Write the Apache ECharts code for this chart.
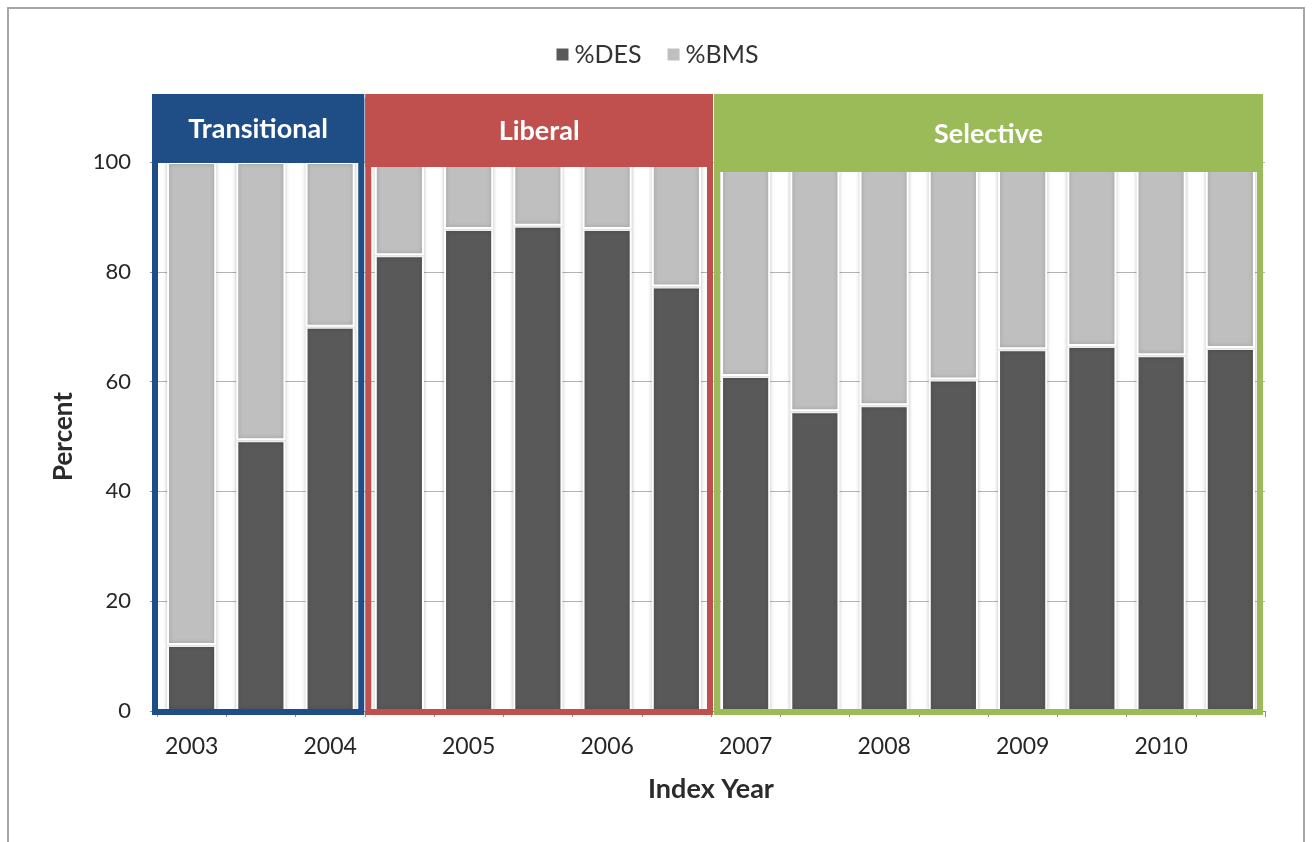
<!DOCTYPE html>
<html>
<head>
<meta charset="utf-8">
<title>%DES and %BMS by Index Year</title>
<script src="https://cdn.jsdelivr.net/npm/echarts@6/dist/echarts.min.js"></script>
<style>
  html, body { margin: 0; padding: 0; background: #ffffff; }
  #chart { width: 1313px; height: 842px; }
</style>
</head>
<body>
<div id="chart"></div>
<script>
// Half-year periods, labelled by year on every second tick
const periods = ['2003-1', '2003-2', '2004-1', '2004-2', '2005-1', '2005-2', '2006-1', '2006-2',
                 '2007-1', '2007-2', '2008-1', '2008-2', '2009-1', '2009-2', '2010-1', '2010-2'];

// Share of drug-eluting stents and bare-metal stents (percent)
const desValues = [12, 49.3, 70, 83, 87.8, 88.4, 87.8, 77.3, 61, 54.6, 55.7, 60.4, 65.9, 66.5, 64.8, 66.1];
const bmsValues = [88, 50.7, 30, 17, 12.2, 11.6, 12.2, 22.7, 39, 45.4, 44.3, 39.6, 34.1, 33.5, 35.2, 33.9];

// Policy eras, as [first period index, end period index]
const eraNames = ['Transitional', 'Liberal', 'Selective'];
const eraStart = [0, 3, 8];
const eraEnd = [3, 8, 16];

const yTicks = [0, 20, 40, 60, 80, 100];

// Appearance of each era frame
const eraStyle = [
  { color: '#1F4E86', insetL: -2, insetR: -3.5, headerDrop: 1 },
  { color: '#C0504D', insetL: 3.5, insetR: -1, headerDrop: 5 },
  { color: '#9BBB59', insetL: 6, insetR: -5, headerDrop: 10 }
];

const FONT = 'Lato, "Open Sans", sans-serif';
const chart = echarts.init(document.getElementById('chart'));

function renderEra(params, api) {
  const i = params.dataIndex;
  const st = eraStyle[i];
  const left = api.coord([api.value(0), 0]);
  const right = api.coord([api.value(1), 0]);
  const top100 = api.coord([api.value(0), 100]);
  const lw = 6;
  const x0 = left[0] + st.insetL;
  const x1 = right[0] + st.insetR;
  const yBottom = left[1] + 1;
  const yTop = top100[1] - 65;
  const yHeader = top100[1] + st.headerDrop;
  return {
    type: 'group',
    children: [
      {
        type: 'rect',
        shape: { x: x0 - lw / 2, y: yTop - lw / 2, width: x1 - x0 + lw, height: yHeader - yTop + lw / 2, r: [5, 5, 0, 0] },
        style: { fill: st.color }
      },
      {
        type: 'rect',
        shape: { x: x0, y: yTop, width: x1 - x0, height: yBottom - yTop },
        style: { fill: 'none', stroke: st.color, lineWidth: lw }
      },
      {
        type: 'text',
        x: (x0 + x1) / 2,
        y: (yTop - lw / 2 + yHeader) / 2 + 1,
        style: {
          text: eraNames[i],
          fill: '#ffffff',
          font: 'bold 27px ' + FONT,
          align: 'center',
          verticalAlign: 'middle'
        }
      }
    ]
  };
}

const option = {
  backgroundColor: '#ffffff',
  animation: false,
  graphic: [
    {
      type: 'rect',
      shape: { x: 8, y: 8, width: 1296, height: 900 },
      style: { fill: 'none', stroke: '#a6a6a6', lineWidth: 2 },
      silent: true,
      z: 0
    }
  ],
  legend: {
    data: ['%DES', '%BMS'],
    left: 'center',
    top: 37,
    icon: 'rect',
    itemWidth: 14,
    itemHeight: 14,
    itemGap: 24,
    textStyle: { fontFamily: FONT, fontSize: 25, color: '#333333' }
  },
  grid: { left: 157, right: 48, top: 162, bottom: 131 },
  xAxis: [
    {
      type: 'category',
      data: periods,
      name: 'Index Year',
      nameLocation: 'middle',
      nameGap: 65,
      nameTextStyle: { fontFamily: FONT, fontSize: 27, fontWeight: 'bold', color: '#2b2b2b' },
      axisLine: { show: true, lineStyle: { color: '#8c8c8c', width: 1 } },
      axisTick: { show: true, interval: 0, length: 6, lineStyle: { color: '#8c8c8c' } },
      axisLabel: {
        interval: 1,
        margin: 24,
        fontFamily: FONT,
        fontSize: 23,
        color: '#262626',
        formatter: function (v) { return v.split('-')[0]; }
      }
    },
    {
      type: 'value',
      min: 0,
      max: periods.length,
      show: false
    }
  ],
  yAxis: {
    type: 'value',
    min: yTicks[0],
    max: yTicks[yTicks.length - 1],
    interval: 20,
    name: 'Percent',
    nameLocation: 'middle',
    nameGap: 80,
    nameRotate: 90,
    nameTextStyle: { fontFamily: FONT, fontSize: 26, fontWeight: 'bold', color: '#2b2b2b' },
    axisLine: { show: true, lineStyle: { color: '#8c8c8c' } },
    axisTick: { show: true, length: 7, lineStyle: { color: '#8c8c8c' } },
    axisLabel: { margin: 26, fontFamily: FONT, fontSize: 22, color: '#262626' },
    splitLine: { show: true, lineStyle: { color: '#b3b3b3', width: 1 } }
  },
  series: [
    {
      name: '%DES',
      type: 'bar',
      stack: 'share',
      data: desValues,
      barWidth: '71%',
      itemStyle: {
        color: '#595959',
        borderColor: '#ffffff',
        borderWidth: 2,
        shadowColor: 'rgba(0,0,0,0.22)',
        shadowBlur: 4
      },
      z: 2
    },
    {
      name: '%BMS',
      type: 'bar',
      stack: 'share',
      data: bmsValues,
      barWidth: '71%',
      itemStyle: {
        color: '#BFBFBF',
        borderColor: '#ffffff',
        borderWidth: 2,
        shadowColor: 'rgba(0,0,0,0.22)',
        shadowBlur: 4
      },
      z: 2
    },
    {
      name: 'eras',
      type: 'custom',
      xAxisIndex: 1,
      yAxisIndex: 0,
      clip: false,
      silent: true,
      z: 10,
      data: eraStart.map(function (s, i) { return [s, eraEnd[i], i]; }),
      renderItem: renderEra
    }
  ]
};

chart.setOption(option);
</script>
</body>
</html>
